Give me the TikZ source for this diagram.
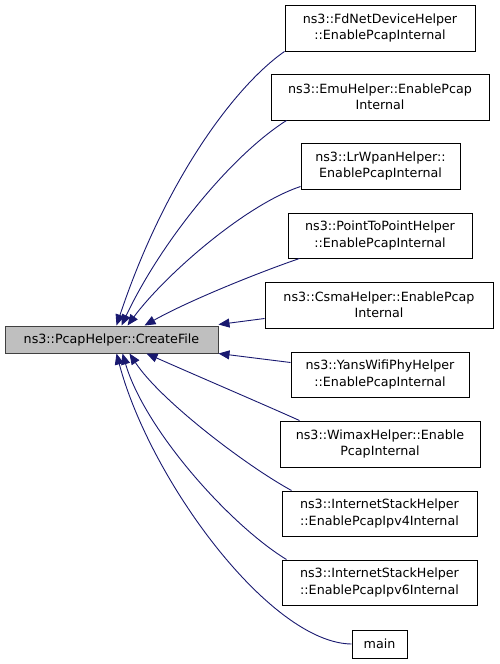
\documentclass[tikz,border=0pt]{standalone}
\usepackage{fontspec}
\setmainfont{DejaVu Sans}
\usetikzlibrary{arrows.meta,calc}
\definecolor{edgeblue}{HTML}{191970}
\definecolor{mainfill}{HTML}{BFBFBF}
\definecolor{mainborder}{HTML}{404040}
\begin{document}
\begin{tikzpicture}[x=1pt,y=-1pt,
  box/.style={draw=black,fill=white,line width=1pt,inner sep=0pt,align=center,
    font=\fontsize{12.7}{16.5}\selectfont},
  mainbox/.style={box,fill=mainfill,draw=mainborder},
  edge/.style={draw=edgeblue,line width=0.9pt,-{Triangle[length=11pt,width=9pt]}}]
\useasboundingbox (0,0) rectangle (499,664);
\node[mainbox,minimum width=213pt,minimum height=27pt] (pcap) at (111.5,339.5) {ns3::PcapHelper::CreateFile};
\node[box,minimum width=190pt,minimum height=46pt] (fd) at (380,28) {ns3::FdNetDeviceHelper\\::EnablePcapInternal};
\node[box,minimum width=218pt,minimum height=46pt] (emu) at (380,97) {ns3::EmuHelper::EnablePcap\\Internal};
\node[box,minimum width=159pt,minimum height=46pt] (lr) at (380.5,166) {ns3::LrWpanHelper::\\EnablePcapInternal};
\node[box,minimum width=184pt,minimum height=45pt] (p2p) at (380,235.5) {ns3::PointToPointHelper\\::EnablePcapInternal};
\node[box,minimum width=228pt,minimum height=46pt] (csma) at (379,305) {ns3::CsmaHelper::EnablePcap\\Internal};
\node[box,minimum width=178pt,minimum height=45pt] (yans) at (380,374.5) {ns3::YansWifiPhyHelper\\::EnablePcapInternal};
\node[box,minimum width=200pt,minimum height=46pt] (wimax) at (380,444) {ns3::WimaxHelper::Enable\\PcapInternal};
\node[box,minimum width=195pt,minimum height=45pt] (ipv4) at (379.5,513.5) {ns3::InternetStackHelper\\::EnablePcapIpv4Internal};
\node[box,minimum width=195pt,minimum height=45pt] (ipv6) at (379.5,582.5) {ns3::InternetStackHelper\\::EnablePcapIpv6Internal};
\node[box,minimum width=55pt,minimum height=28pt] (mainfn) at (379.5,644) {main};

\draw[edge] (fd.south west) .. controls (235,86) and (165,180) .. ($(pcap.north west)+(112,0)$);
\draw[edge] ($(emu.south west)+(16,0)$) .. controls (232,155) and (162,240) .. ($(pcap.north west)+(117,0)$);
\draw[edge] ($(lr.south west)+(0,-3)$) .. controls (245,205) and (165,275) .. ($(pcap.north west)+(123,0)$);
\draw[edge] ($(p2p.south west)+(12,0)$) .. controls (260,272) and (190,300) .. ($(pcap.north west)+(140,0)$);
\draw[edge] ($(csma.south west)+(0,-10)$) -- ($(pcap.north east)+(0,-1)$);
\draw[edge] ($(yans.north west)+(0,11)$) -- (pcap.south east);
\draw[edge] ($(wimax.north west)+(20,0)$) .. controls (265,405) and (195,375) .. ($(pcap.south west)+(142,0)$);
\draw[edge] ($(ipv4.north west)+(10,0)$) .. controls (245,465) and (160,400) .. ($(pcap.south west)+(125,0)$);
\draw[edge] ($(ipv6.north west)+(5,0)$) .. controls (230,525) and (145,430) .. ($(pcap.south west)+(118,0)$);
\draw[edge] (mainfn.west) .. controls (270,643) and (150,480) .. ($(pcap.south west)+(112,0)$);
\end{tikzpicture}
\end{document}
